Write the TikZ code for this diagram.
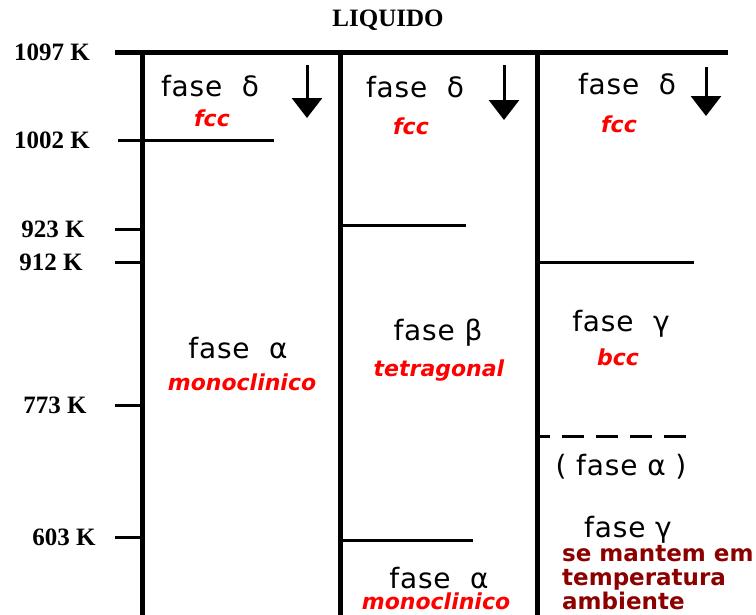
\documentclass[tikz,border=0pt]{standalone}
\usepackage{fontspec}
\setmainfont{DejaVu Sans}
\newfontfamily\kfont{Liberation Serif}
\newfontfamily\fasefont{DejaVu Sans}[LetterSpace=3]
\usepackage{tikz}
\usetikzlibrary{arrows.meta}
\definecolor{fccred}{RGB}{255,0,0}
\definecolor{keepred}{RGB}{140,0,0}

\begin{document}
\begin{tikzpicture}[x=1pt,y=-1pt,
	fase/.style={inner sep=0pt,font=\fasefont\fontsize{28}{30}\selectfont},
	cryst/.style={inner sep=0pt,text=fccred,font=\fontsize{22}{24}\selectfont\bfseries\itshape},
	kelvin/.style={inner sep=0pt,font=\kfont\fontsize{25}{27}\selectfont\bfseries},
	keep/.style={inner sep=0pt,text=keepred,align=left,font=\fontsize{23}{24}\selectfont\bfseries},
	wall/.style={line width=5pt},
	level/.style={line width=3pt},
	cool/.style={line width=3pt,-{Triangle[width=30pt,length=20pt]}}]
		\useasboundingbox (0,0) rectangle (756,614);
		\node[kelvin] (liq) at (388,20) {LIQUIDO};
		\draw[wall] (115,52) -- (728,52);
		\draw[wall] (142,52) -- (142,620);
		\draw[wall] (340,52) -- (340,620);
		\draw[wall] (537,52) -- (537,620);
		\node[kelvin] (k1097) at (52,52) {1097 K};
		\node[kelvin] (k1002) at (52,140) {1002 K};
		\node[kelvin] (k923) at (53,229) {923 K};
		\node[kelvin] (k912) at (51,262) {912 K};
		\node[kelvin] (k773) at (55,405) {773 K};
		\node[kelvin] (k603) at (64,537) {603 K};
		\draw[level] (118,140) -- (274,140);
		\draw[level] (115,229) -- (142,229);
		\draw[level] (115,262) -- (142,262);
		\draw[level] (115,405) -- (142,405);
		\draw[level] (115,537) -- (142,537);
		\draw[level] (340,225) -- (466,225);
		\draw[level] (340,540) -- (473,540);
		\draw[level] (537,262) -- (694,262);
		\draw[level,dash pattern=on 22pt off 12pt,dash phase=12pt] (540,436) -- (690,436);
		\node[fase] (dA) at (210,86) {fase\ \ δ};
		\node[cryst] (fccA) at (212,118) {fcc};
		\draw[cool] (307,65) -- (307,118);
		\node[fase] (dB) at (415,87) {fase\ \ δ};
		\node[cryst] (fccB) at (411,126) {fcc};
		\draw[cool] (504,65) -- (504,120);
		\node[fase] (dC) at (627,84) {fase\ \ δ};
		\node[cryst] (fccC) at (619,124) {fcc};
		\draw[cool] (706,67) -- (706,116);
		\node[fase] (aA) at (238,348) {fase\ \ α};
		\node[cryst] (monoA) at (242,382) {monoclinico};
		\node[fase] (bB) at (438,333) {fase β};
		\node[cryst] (tetraB) at (439,371) {tetragonal};
		\node[fase] (gC) at (621,324) {fase\ \ γ};
		\node[cryst] (bccC) at (618,357) {bcc};
		\node[fase] (aC) at (621,467) {( fase α )};
		\node[fase] (gKeep) at (628,530) {fase γ};
		\node[keep,anchor=north west] (kept) at (562,545) {se mantem em\\temperatura\\ambiente};
		\node[fase] (aB) at (439,578) {fase\ \ α};
		\node[cryst] (monoB) at (436,601) {monoclinico};
	\end{tikzpicture}
\end{document}
